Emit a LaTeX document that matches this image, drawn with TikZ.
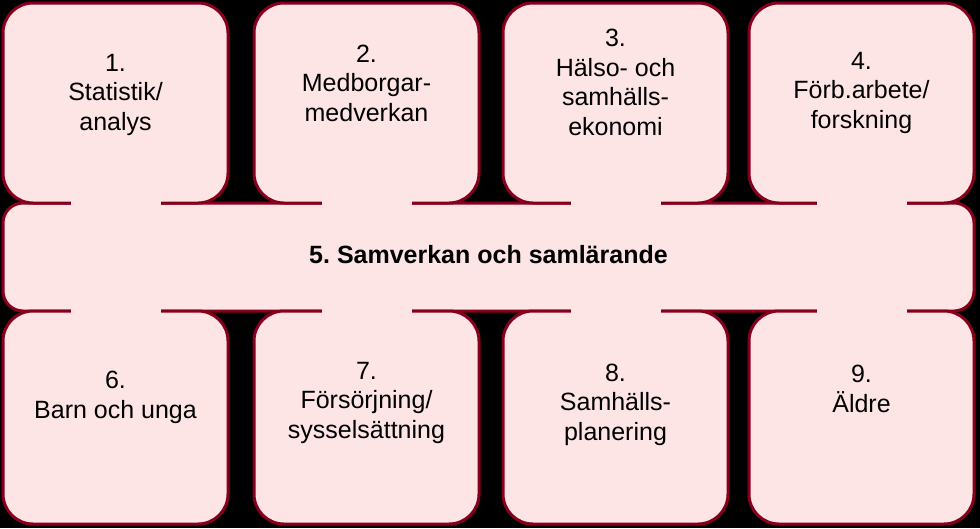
\documentclass[tikz,border=0pt]{standalone}
\usepackage{fontspec}
\setmainfont{Liberation Sans}
\frenchspacing
\definecolor{rim}{RGB}{134,0,30}
\definecolor{blush}{RGB}{253,228,229}

\begin{document}
\begin{tikzpicture}[x=1pt,y=-1pt,
			panel/.style={draw=rim,fill=blush,line width=3pt,rounded corners=30pt},
			bridge/.style={fill=blush},
			boxtext/.style={align=center,inner sep=0pt,anchor=base,font=\fontsize{25}{29.5}\selectfont}]
			\useasboundingbox(0,0)rectangle(980,528);
			\fill[black](0,0)rectangle(980,528);
			\draw[panel,rounded corners=20pt](3,203)rectangle(974,311);
			\draw[panel](3,3)rectangle(228,203);
			\draw[panel](254,3)rectangle(479,203);
			\draw[panel](503,3)rectangle(728,203);
			\draw[panel](749,3)rectangle(974,203);
			\draw[panel](3,311)rectangle(228,524);
			\draw[panel](254,311)rectangle(479,524);
			\draw[panel](503,311)rectangle(728,524);
			\draw[panel](749,311)rectangle(974,524);
			\foreach \cx in {115.5,366.5,615.5,861.5}{
				\fill[bridge](\cx-45,198.5)rectangle(\cx+45,207.5);
				\fill[bridge](\cx-45,306.5)rectangle(\cx+45,315.5);
			}
			% anchor=base sits on the last line
			\node[boxtext](stat) at (115.5,130){1.\\Statistik/\\analys};
			\node[boxtext](medb) at (366.5,121){2.\\Medborgar-\\medverkan};
			\node[boxtext](halso) at (615.5,135){3.\\Hälso- och\\samhälls-\\ekonomi};
			\node[boxtext](forb) at (861.5,128){4.\\Förb.arbete/\\forskning};
			\node[boxtext,font=\fontsize{25}{29.5}\selectfont\bfseries](samv) at (488.5,263){5. Samverkan och samlärande};
			\node[boxtext](barn) at (115.5,418){6.\\Barn och unga};
			\node[boxtext](fors) at (366.5,438){7.\\Försörjning/\\sysselsättning};
			\node[boxtext](plan) at (615.5,440){8.\\Samhälls-\\planering};
			\node[boxtext](aldre) at (861.5,412){9.\\Äldre};
		\end{tikzpicture}
\end{document}
